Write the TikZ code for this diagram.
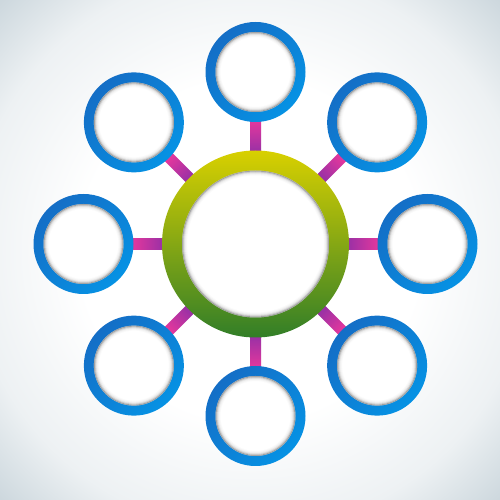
\documentclass[tikz,border=0pt]{standalone}
\usetikzlibrary{calc}
\pgfdeclarelayer{back}
\pgfdeclarelayer{links}
\pgfsetlayers{back,links,main}
\definecolor{bgedge}{RGB}{204,215,221}
\definecolor{blueA}{RGB}{20,110,198}
\definecolor{blueB}{RGB}{6,146,228}
\definecolor{greenTop}{RGB}{216,208,0}
\definecolor{greenBot}{RGB}{50,126,40}
\definecolor{pinkC}{RGB}{234,56,156}
\definecolor{purpC}{RGB}{148,48,166}
\definecolor{shadowC}{RGB}{110,110,110}
\pgfdeclareradialshading{bgshade}{\pgfpoint{0bp}{0bp}}{color(0bp)=(white); color(17bp)=(white); color(28bp)=(bgedge!35!white); color(35.5bp)=(bgedge); color(50bp)=(bgedge)}
\newcommand{\holeshadow}[1]{%
  \fill[white] (path picture bounding box.center) circle (#1);
  \draw[shadowC, line width=1pt, opacity=0.62] (path picture bounding box.center) circle (#1-0.5pt);
  \draw[shadowC, line width=1pt, opacity=0.34] (path picture bounding box.center) circle (#1-1.5pt);
  \draw[shadowC, line width=1pt, opacity=0.16] (path picture bounding box.center) circle (#1-2.5pt);
  \draw[shadowC, line width=1pt, opacity=0.07] (path picture bounding box.center) circle (#1-3.5pt);
  \draw[shadowC, line width=1pt, opacity=0.03] (path picture bounding box.center) circle (#1-4.5pt);
}
\tikzset{
  bluering/.style={circle, inner sep=0pt, minimum size=100pt,
    top color=blueA, bottom color=blueB, shading angle=45,
    path picture={\holeshadow{40pt}}},
  hubring/.style={circle, inner sep=0pt, minimum size=187pt,
    top color=greenTop, bottom color=greenBot, shading angle=0,
    path picture={\holeshadow{73.5pt}}},
  linkbar/.style={top color=pinkC, bottom color=purpC, shading angle=#1}
}
\begin{document}
\begin{tikzpicture}[x=1pt,y=1pt]
\useasboundingbox (0,0) rectangle (500,500);
\begin{pgfonlayer}{back}
\shade[shading=bgshade] (0,0) rectangle (500,500);
\end{pgfonlayer}
\node[hubring] (c) at (255.5,256) {};
\node[bluering] (n1) at ($(c.center)+(90:172)$) {};
\node[bluering] (n2) at ($(c.center)+(45:172)$) {};
\node[bluering] (n3) at ($(c.center)+(0:172)$) {};
\node[bluering] (n4) at ($(c.center)+(-45:172)$) {};
\node[bluering] (n5) at ($(c.center)+(-90:172)$) {};
\node[bluering] (n6) at ($(c.center)+(-135:172)$) {};
\node[bluering] (n7) at ($(c.center)+(180:172)$) {};
\node[bluering] (n8) at ($(c.center)+(135:172)$) {};
\begin{pgfonlayer}{links}
\foreach \n/\a in {n1/90,n2/45,n3/0,n4/-45,n5/-90,n6/-135,n7/180,n8/135}{
  \pgfmathsetmacro\sa{\a-90}
  \shade[linkbar=\sa]
    ($(c.center)!90pt!(\n.center)!5.5pt!90:(\n.center)$) --
    ($(c.center)!126pt!(\n.center)!5.5pt!90:(\n.center)$) --
    ($(c.center)!126pt!(\n.center)!5.5pt!-90:(\n.center)$) --
    ($(c.center)!90pt!(\n.center)!5.5pt!-90:(\n.center)$) -- cycle;
}
\end{pgfonlayer}
\end{tikzpicture}
\end{document}
